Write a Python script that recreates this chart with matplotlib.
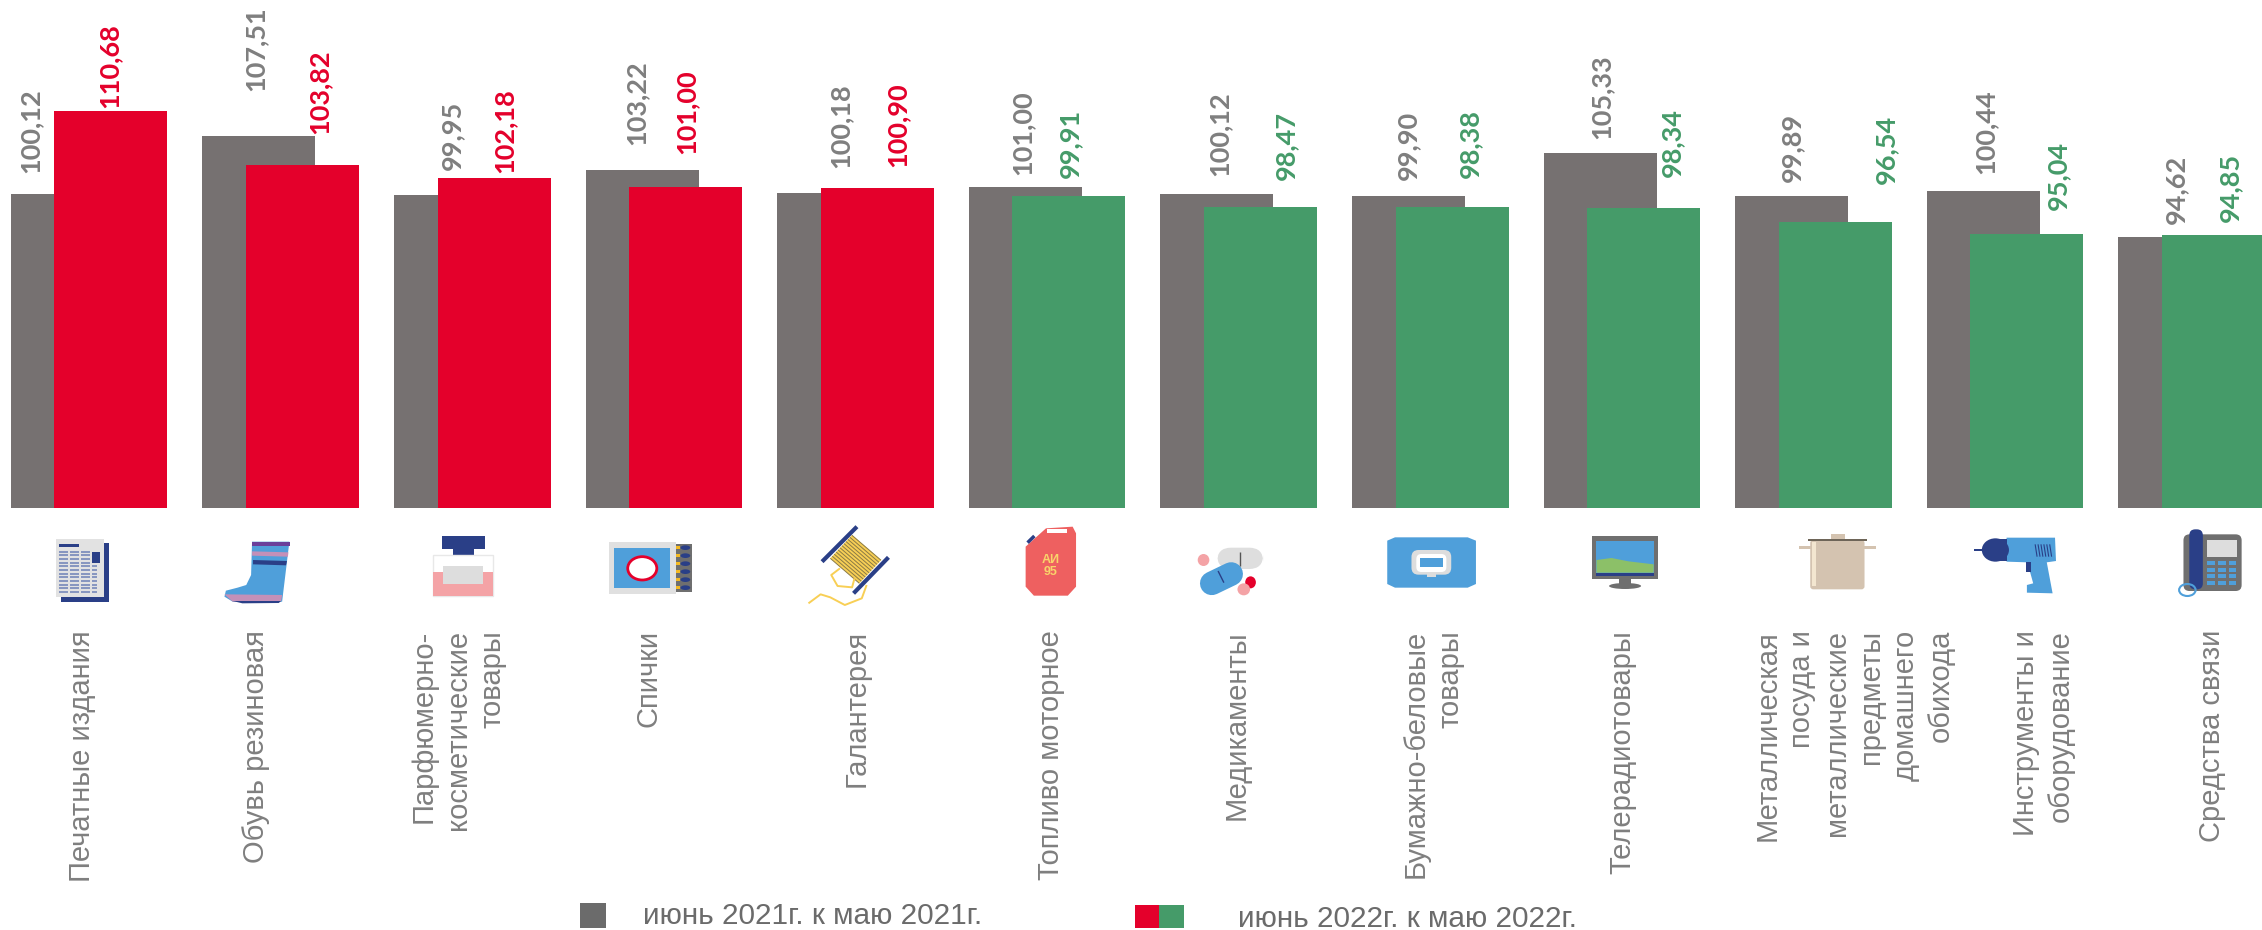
#!/usr/bin/env python
import matplotlib
matplotlib.use("Agg")
import matplotlib.pyplot as plt
from matplotlib.patches import Polygon, Ellipse, FancyBboxPatch, Rectangle
import numpy as np

categories = ["Печатные издания", "Обувь резиновая", "Парфюмерно-\nкосметические\nтовары", "Спички",
              "Галантерея", "Топливо моторное", "Медикаменты", "Бумажно-беловые\nтовары",
              "Телерадиотовары", "Металлическая\nпосуда и\nметаллические\nпредметы\nдомашнего\nобихода",
              "Инструменты и\nоборудование", "Средства связи"]
values_2021 = [100.12, 107.51, 99.95, 103.22, 100.18, 101.00, 100.12, 99.90, 105.33, 99.89, 100.44, 94.62]
values_2022 = [110.68, 103.82, 102.18, 101.00, 100.90, 99.91, 98.47, 98.38, 98.34, 96.54, 95.04, 94.85]
legend_2021 = "июнь 2021г. к маю 2021г."
legend_2022 = "июнь 2022г. к маю 2022г."

GREY = "#767171"
RED = "#e4002b"
GREEN = "#459b69"
TEXT = "#7f7f7f"
BLUE = "#4f9fda"
NAVY = "#2a3f87"
W, H = 2262, 930

fig = plt.figure(figsize=(W / 100, H / 100), dpi=100)

# bars: y axis starts at 60, 7.83 px per unit
base_y = 508
pitch = 191.6
center = 89.0
ax = fig.add_axes([0, 1 - base_y / H, 1, base_y / H])
ax.set_xlim(-center / pitch, (W - center) / pitch)
ax.set_ylim(60, 60 + base_y / 7.83)
ax.axis("off")

x = np.arange(len(categories))
offset = 21.8 / pitch
width = 113 / pitch
colors_2022 = [RED if v > 100 else GREEN for v in values_2022]
ax.bar(x - offset, values_2021, width, color=GREY)
ax.bar(x + offset, values_2022, width, color=colors_2022)

# labels were placed by hand in the original, so each one has its own shift (px)
grey_dx = [-37, -3, 2, -6, 7, -3, 3, 0, 1, 0, 2, 1]
grey_dy = [21, 45, 25, 25, 25, 12, 18, 16, 14, 14, 17, 13]
red_dx = [-1, 17, 10, 1, 20, 1, 26, 18, 28, 51, 31, 12]
red_dy = [3, 31, 5, 33, 21, 18, 27, 29, 31, 38, 24, 13]
for i in x:
    ax.annotate(f"{values_2021[i]:.2f}".replace(".", ","), (i - offset, values_2021[i]),
                xytext=(grey_dx[i], grey_dy[i]), textcoords="offset pixels", rotation=90,
                ha="center", va="bottom", color=TEXT, fontsize=19.5, fontweight="bold",
                family="Lato", annotation_clip=False)
    ax.annotate(f"{values_2022[i]:.2f}".replace(".", ","), (i + offset, values_2022[i]),
                xytext=(red_dx[i], red_dy[i]), textcoords="offset pixels", rotation=90,
                ha="center", va="bottom", color=colors_2022[i], fontsize=19.5, fontweight="bold",
                family="Lato", annotation_clip=False)

# overlay in picture pixels for icons, captions and legend
ov = fig.add_axes([0, 0, 1, 1], facecolor="none")
ov.set_xlim(0, W)
ov.set_ylim(H, 0)
ov.axis("off")

label_x = [82, 256, 458, 648, 857, 1051, 1237, 1433, 1622, 1854, 2043, 2212]
for lx, name in zip(label_x, categories):
    ov.text(lx, 630, name, rotation=90, ha="center", va="top", multialignment="right",
            color=TEXT, fontsize=21, family="Liberation Sans", linespacing=1.3)


def pt(px, py, x0):
    return (x0 + px / 2.063, 500 + py / 3)


def poly(pts, color, x0=0):
    ov.add_patch(Polygon([pt(a, b, x0) for a, b in pts], fc=color, ec="none"))


def rect(x1, y1, x2, y2, color, x0=0):
    poly([(x1, y1), (x2, y1), (x2, y2), (x1, y2)], color, x0)


def line(pts, color, lw, x0=0, cap="butt"):
    p = [pt(a, b, x0) for a, b in pts]
    ov.plot([q[0] for q in p], [q[1] for q in p], color=color, lw=lw, solid_capstyle=cap)


def ell(cx, cy, rx, ry, color, x0=0, ec="none", lw=0):
    c = pt(cx, cy, x0)
    ov.add_patch(Ellipse(c, 2 * rx / 2.063, 2 * ry / 3, fc=color, ec=ec, lw=lw))


def rrect(x1, y1, x2, y2, color, x0=0, r=6):
    a = pt(x1, y1, x0)
    b = pt(x2, y2, x0)
    ov.add_patch(FancyBboxPatch((a[0] + r, a[1] + r), b[0] - a[0] - 2 * r, b[1] - a[1] - 2 * r,
                                boxstyle=f"round,pad={r}", fc=color, ec="none"))


# newspaper
rect(125, 130, 225, 307, NAVY)
rect(115, 117, 215, 292, "#e2e2e2")
rect(122, 132, 164, 142, NAVY)
rect(189, 156, 206, 190, NAVY)
for yy in range(155, 280, 11):
    for xa, xb in [(122, 140), (145, 162), (167, 185), (189, 200)]:
        if not (xa == 189 and yy < 195):
            line([(xa, yy), (xb, yy)], "#7f8fbd", 1.3)

# boot
poly([(520, 125), (597, 125), (582, 305), (480, 305), (463, 290), (466, 272), (490, 263), (508, 255), (518, 225)], BLUE)
poly([(463, 283), (582, 285), (580, 303), (480, 305)], "#c490b8")
rect(520, 125, 598, 137, "#6a3f9a")
poly([(520, 154), (595, 157), (594, 170), (520, 167)], "#c490b8")
poly([(522, 180), (592, 183), (590, 196), (522, 193)], NAVY)
poly([(480, 303), (580, 303), (575, 309), (500, 310)], NAVY)

# perfume
rect(911, 108, 1000, 148, NAVY)
rect(934, 148, 978, 165, NAVY)
ov.add_patch(Rectangle(pt(893, 166, 0), 124 / 2.063, 122 / 3, fc="white", ec="#e8e8e8", lw=1))
rect(893, 217, 1017, 288, "#f4a3a6")
rect(914, 199, 997, 252, "#dddddd")

# matches
rect(1394, 132, 1427, 277, "#6f6f6f")
for yy in range(143, 270, 24):
    ell(1414, yy, 10, 7, NAVY)
    rect(1395, yy - 4, 1403, yy + 4, "#f5b921")
rect(1256, 127, 1394, 281, "#e0e0e0")
rect(1267, 143, 1383, 265, BLUE)
ell(1325, 205, 30, 35, "white", ec=RED, lw=2)

# spool
x0 = 760
poly([(190, 105), (250, 180), (205, 250), (145, 175)], "#f8cf55", x0)
for k in np.arange(0, 1.01, 0.09):
    a = (145 + 45 * k, 175 - 70 * k)
    b = (205 + 45 * k, 250 - 70 * k)
    line([a, b], "#8a7a45", 0.7, x0)
line([(200, 80), (128, 185)], NAVY, 3, x0)
line([(265, 172), (193, 280)], NAVY, 3, x0)
line([(165, 205), (147, 225), (160, 258), (190, 262), (195, 235)], "#f8cf55", 1.4, x0)
line([(220, 255), (210, 295), (175, 315), (145, 292), (125, 283), (100, 310)], "#f8cf55", 1.4, x0)

# canister
poly([(548, 140), (590, 85), (645, 80), (652, 100), (652, 260), (635, 287), (565, 287), (548, 260)], "#ee6060", x0)
rect(592, 86, 634, 98, "white", x0)
line([(552, 128), (566, 108)], NAVY, 2.5, x0)
ov.text(*pt(600, 197, x0), "АИ\n95", color="#f9d36a", fontsize=9, fontweight="bold", ha="center", va="center",
        family="Liberation Sans", linespacing=1.0)

# pills
line([(932, 250), (972, 222)], BLUE, 17, x0, cap="round")
rrect(943, 143, 1038, 207, "#dedede", x0, r=14)
line([(990, 155), (990, 197)], "#555555", 1, x0)
line([(945, 213), (957, 248)], NAVY, 1, x0)
ell(915, 180, 12, 18, "#f4a3a6", x0)
ell(1012, 247, 11, 18, RED, x0)
ell(998, 268, 13, 18, "#f4a3a6", x0)

# wipes
poly([(1294, 122), (1310, 112), (1460, 112), (1477, 122), (1477, 252), (1460, 263), (1310, 263), (1294, 252)], BLUE, x0)
rrect(1344, 150, 1426, 224, "#dddddd", x0, r=7)
rrect(1354, 162, 1416, 216, "white", x0, r=5)
rect(1362, 173, 1408, 202, BLUE, x0)
rect(1375, 216, 1395, 231, "#dddddd", x0)

# tv
x0 = 1500
rect(190, 109, 326, 238, "#6f6f6f", x0)
rect(199, 122, 317, 218, BLUE, x0)
poly([(199, 180), (230, 174), (265, 184), (317, 193), (317, 218), (199, 218)], "#8cc068", x0)
rect(199, 218, 317, 228, NAVY, x0)
rect(245, 238, 270, 252, "#6f6f6f", x0)
ell(258, 258, 33, 9, "#6f6f6f", x0)

# pot
rect(617, 138, 775, 147, "#d4c3b0", x0)
rrect(640, 120, 752, 268, "#d4c3b0", x0, r=3)
rect(643, 125, 652, 258, "#f3e6d0", x0)
rect(635, 117, 758, 124, "#6e6558", x0)
rect(682, 103, 712, 117, "#d4c3b0", x0)

# drill
poly([(1045, 113), (1145, 113), (1147, 183), (1128, 187), (1140, 280), (1087, 278), (1087, 255), (1100, 250), (1088, 187), (1045, 185)], BLUE, x0)
ell(1022, 150, 28, 35, NAVY, x0)
rect(1030, 118, 1045, 183, NAVY, x0)
rect(978, 146, 1000, 153, NAVY, x0)
rect(1086, 187, 1096, 215, NAVY, x0)
for xa in range(1104, 1136, 6):
    line([(xa, 133), (xa + 4, 170)], "#2a3f87", 0.8, x0)

# phone
rrect(1410, 103, 1530, 273, "#6f6f6f", x0, r=6)
rrect(1422, 88, 1450, 268, NAVY, x0, r=6)
rect(1458, 120, 1521, 170, "#dddddd", x0)
for yy in (190, 210, 228, 248):
    for xa in (1467, 1489, 1511):
        rect(xa - 8, yy - 6, xa + 8, yy + 6, BLUE, x0)
ell(1418, 270, 17, 18, "none", x0, ec=BLUE, lw=1.5)

# legend
ov.add_patch(Rectangle((580, 903), 26, 25, fc="#6b6b6b", ec="none"))
ov.add_patch(Rectangle((1135, 905), 24, 23, fc=RED, ec="none"))
ov.add_patch(Rectangle((1159, 905), 25, 23, fc=GREEN, ec="none"))
ov.text(643, 916, legend_2021, color="#6b6b6b", fontsize=21.4, va="center", family="Liberation Sans")
ov.text(1238, 919, legend_2022, color="#6b6b6b", fontsize=21.4, va="center", family="Liberation Sans")

fig.savefig("out.png", dpi=100)
